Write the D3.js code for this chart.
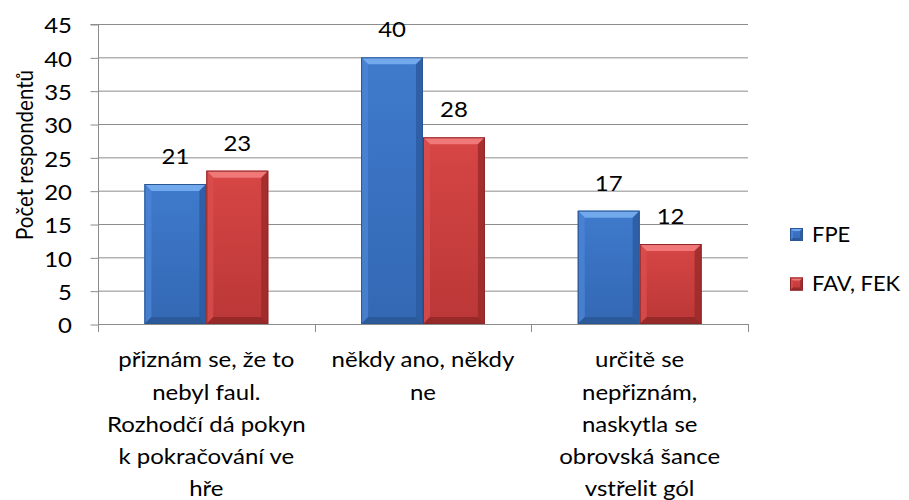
<!DOCTYPE html>
<html><head><meta charset="utf-8">
<script src="https://cdn.jsdelivr.net/npm/d3@7"></script>
<style>body{margin:0;background:#fff}svg{display:block}text{font-family:Lato,"Open Sans",sans-serif;fill:#000}</style>
</head><body><svg id="c" width="909" height="500"></svg>
<script>
const categories = [
  ["přiznám se, že to","nebyl faul.","Rozhodčí dá pokyn","k pokračování ve","hře"],
  ["někdy ano, někdy","ne"],
  ["určitě se","nepřiznám,","naskytla se","obrovská šance","vstřelit gól"]
];
const seriesNames = ["FPE","FAV, FEK"];
const fpe = [21,40,17];
const favFek = [23,28,12];
const yTicks = [0,5,10,15,20,25,30,35,40,45];
const yTitle = "Počet respondentů";

(function(){
const FS = 20.5, SX = 1.17;
const svg = d3.select("#c");
const pL = 98, pR = 748, pT = 24, pB = 324;
const y = d3.scaleLinear().domain([0,45]).range([pB, pT]);
const x0 = d3.scaleBand().domain(d3.range(categories.length)).range([pL, pR]).paddingInner(0).paddingOuter(0);
const x1 = d3.scaleBand().domain(d3.range(2)).range([0, x0.bandwidth()]).paddingInner(0).paddingOuter(0.75);

const colors = [
  {top:"#72A8EC", left:"#4C85D4", right:"#2C5A9E", bottom:"#2A5594", stroke:"#2B5694", hi:"#3F7ACC", lo:"#3368B4"},
  {top:"#F07878", left:"#D84E4D", right:"#9A2929", bottom:"#8F2626", stroke:"#8E2727", hi:"#D64645", lo:"#BB3737"}
];
const defs = svg.append("defs");
colors.forEach((c,i)=>{
  const g = defs.append("linearGradient").attr("id","g"+i).attr("x1",0).attr("y1",0).attr("x2",0).attr("y2",1);
  g.append("stop").attr("offset","0%").attr("stop-color",c.hi);
  g.append("stop").attr("offset","100%").attr("stop-color",c.lo);
});

svg.append("g").selectAll("line").data(yTicks.filter(d=>d>0)).join("line")
  .attr("x1",pL).attr("x2",pR).attr("y1",d=>y(d)+0.5).attr("y2",d=>y(d)+0.5)
  .attr("stroke","#8C8C8C").attr("stroke-width",1);

const yAxis = d3.axisLeft(y).tickValues(yTicks).tickSize(8).tickPadding(18);
const ya = svg.append("g").attr("transform",`translate(${pL+0.5},0.5)`).call(yAxis);
ya.select(".domain").attr("stroke","#8C8C8C").attr("d",`M-8,${pT}H0V${pB}`);
ya.selectAll(".tick line").attr("stroke","#8C8C8C");
ya.selectAll(".tick text").attr("font-size",FS).attr("font-family","Lato").attr("fill","#000")
  .attr("x",0).attr("dy","0.4em").attr("transform",`translate(-26.5,0) scale(${SX},1)`);

svg.append("line").attr("x1",pL).attr("x2",pR).attr("y1",pB+0.5).attr("y2",pB+0.5).attr("stroke","#8C8C8C");
svg.append("g").selectAll("line").data(d3.range(categories.length+1)).join("line")
  .attr("x1",d=>Math.round(pL + d*x0.bandwidth())+0.5).attr("x2",d=>Math.round(pL + d*x0.bandwidth())+0.5)
  .attr("y1",pB).attr("y2",pB+8).attr("stroke","#8C8C8C");

function bevelBar(g, x, yt, w, h, c, i, b){
  g.append("rect").attr("x",x).attr("y",yt).attr("width",w).attr("height",h).attr("fill",`url(#g${i})`);
  const poly = (pts, fill, op)=> g.append("polygon").attr("points",pts.map(p=>p.join(",")).join(" ")).attr("fill",fill).attr("opacity",op||1);
  poly([[x,yt],[x+w,yt],[x+w-b,yt+b],[x+b,yt+b]], c.top);
  poly([[x,yt],[x+b,yt+b],[x+b,yt+h-b],[x,yt+h]], c.left, 0.8);
  poly([[x+w,yt],[x+w,yt+h],[x+w-b,yt+h-b],[x+w-b,yt+b]], c.right, 0.8);
  poly([[x,yt+h],[x+b,yt+h-b],[x+w-b,yt+h-b],[x+w,yt+h]], c.bottom, 0.8);
  g.append("rect").attr("x",x+0.5).attr("y",yt+0.5).attr("width",w-1).attr("height",h-1).attr("fill","none").attr("stroke",c.stroke).attr("stroke-width",1);
}

function sText(x, yy, str, anchor, sx){
  return svg.append("text").attr("transform",`translate(${x},${yy}) scale(${sx||SX},1)`)
    .attr("text-anchor",anchor||"middle").attr("font-size",FS).text(str);
}

const series = [fpe, favFek];
const barsG = svg.append("g");
series.forEach((vals,si)=>{
  vals.forEach((v,ci)=>{
    const bx = x0(ci)+x1(si);
    const bw = x1.bandwidth();
    const yt = y(v);
    bevelBar(barsG, bx, yt, bw, pB - yt, colors[si], si, 7);
    sText(bx+bw/2, yt-20, v);
  });
});

categories.forEach((lines,ci)=>{
  const cx = x0(ci)+x0.bandwidth()/2;
  const t = svg.append("text").attr("transform",`translate(${cx},0) scale(${SX},1)`)
    .attr("text-anchor","middle").attr("font-size",FS);
  lines.forEach((l,li)=>{
    t.append("tspan").attr("x",0).attr("y",367.5+li*32.2).text(l);
  });
});

svg.append("text").attr("transform",`translate(33,155) scale(${SX},1) rotate(-90)`).attr("text-anchor","middle").attr("font-size",FS).text(yTitle);

const lg = svg.append("g");
seriesNames.forEach((n,i)=>{
  const ly = 228 + i*49.5;
  bevelBar(lg, 790, ly, 13, 13, colors[i], i, 3);
  sText(812, ly+13.5, n, "start", 1.07);
});
})();
</script></body></html>
